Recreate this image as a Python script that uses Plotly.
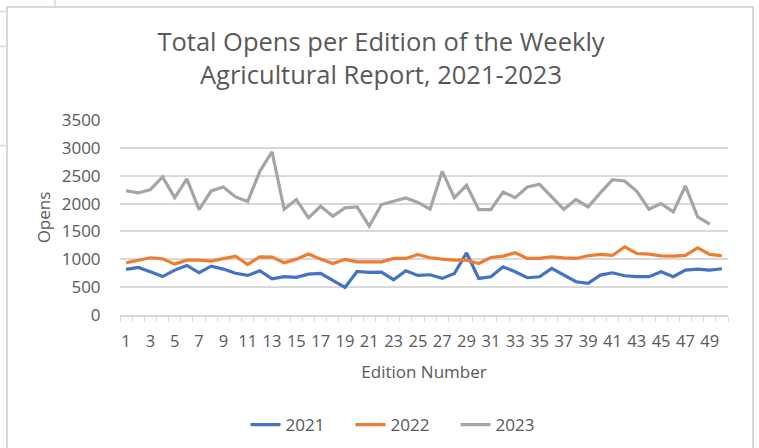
import plotly.graph_objects as go

editions = list(range(1, 51))
opens_2021 = [818, 854, 776, 690, 806, 890, 758, 878, 824, 750, 710, 794, 650, 687, 675, 734, 746, 627, 496, 782,
              764, 770, 633, 794, 710, 722, 657, 746, 1116, 657, 687, 866, 776, 669, 687, 836, 720, 597, 567, 716,
              758, 704, 687, 687, 776, 687, 806, 824, 806, 830]
opens_2022 = [937, 985, 1027, 1009, 913, 985, 985, 967, 1015, 1057, 907, 1045, 1040, 937, 1003, 1093, 1003, 925, 997, 955,
              955, 955, 1015, 1015, 1085, 1027, 1003, 985, 985, 925, 1033, 1057, 1116, 1015, 1015, 1045, 1027, 1015, 1063, 1087,
              1069, 1224, 1104, 1093, 1063, 1057, 1069, 1206, 1087, 1063]
opens_2023 = [2230, 2191, 2250, 2478, 2107, 2442, 1892, 2227, 2298, 2119, 2036, 2579, 2930, 1898, 2072, 1743, 1952, 1773, 1922, 1940,
              1594, 1982, 2042, 2101, 2020, 1898, 2579, 2107, 2328, 1892, 1892, 2209, 2107, 2298, 2346, 2131, 1898, 2072, 1940, 2191,
              2430, 2406, 2221, 1898, 2000, 1851, 2316, 1761, 1630, None]
series_names = ["2021", "2022", "2023"]
series_colors = ["#4472C4", "#ED7D31", "#A5A5A5"]
x_tick_labels = [str(v) for v in editions if v % 2 == 1]
y_tick_values = [0, 500, 1000, 1500, 2000, 2500, 3000, 3500]

W, H = 759, 448
FONT = "Open Sans"
TXT = "#595959"
GRID = "#D9D9D9"

fig = go.Figure()
for name, vals, col in zip(series_names, [opens_2021, opens_2022, opens_2023], series_colors):
    fig.add_trace(go.Scatter(x=editions, y=vals, name=name, mode="lines",
                             line=dict(color=col, width=3.2), connectgaps=False))

def px(x):
    return x / W

def py(y):
    return 1 - y / H

shapes = []
# chart area border
shapes.append(dict(type="rect", xref="paper", yref="paper", x0=px(7), x1=px(753), y0=py(460), y1=py(7),
                   line=dict(color=GRID, width=2), fillcolor="rgba(0,0,0,0)", layer="below"))
# spreadsheet cell lines outside the chart
shapes.append(dict(type="line", xref="paper", yref="paper", x0=px(55), x1=px(55), y0=py(0), y1=py(6),
                   line=dict(color=GRID, width=1.5)))
for yy in [11.5, 46.5, 145.5]:
    shapes.append(dict(type="line", xref="paper", yref="paper", x0=px(0), x1=px(6), y0=py(yy), y1=py(yy),
                       line=dict(color=GRID, width=1.5)))

fig.update_layout(
    width=W, height=H,
    margin=dict(l=0, r=0, t=0, b=0, autoexpand=False),
    paper_bgcolor="white", plot_bgcolor="white",
    font=dict(family=FONT, color=TXT, size=16),
    title=dict(text="Total Opens per Edition of the Weekly<br>Agricultural Report, 2021-2023",
               x=px(381), xanchor="center", y=py(51), yanchor="middle",
               font=dict(family=FONT, size=25.5, color=TXT)),
    xaxis=dict(domain=[px(120), px(728)], range=[0.5, 50.5], automargin=False,
               tickmode="array", tickvals=[v for v in editions if v % 2 == 1], ticktext=x_tick_labels,
               ticks="outside", ticklen=10, tickcolor="rgba(0,0,0,0)",
               showgrid=False, zeroline=False,
               showline=True, linecolor=GRID, linewidth=1.5,
               tickfont=dict(family=FONT, size=16.5, color=TXT),
               minor=dict(tickmode="linear", tick0=0.5, dtick=1, ticks="outside", ticklen=5,
                          tickcolor=GRID, tickwidth=1, showgrid=False),
               title=dict(text="Edition Number", font=dict(family=FONT, size=17, color=TXT), standoff=16)),
    yaxis=dict(domain=[py(315), py(120)], range=[0, 3500], automargin=False,
               tickmode="array", tickvals=y_tick_values, ticktext=[str(v) for v in y_tick_values],
               ticks="outside", ticklen=15, tickcolor="rgba(0,0,0,0)",
               showgrid=True, gridcolor=GRID, gridwidth=1.5, zeroline=False, showline=False,
               tickfont=dict(family=FONT, size=17, color=TXT),
               title=dict(text="Opens", font=dict(family=FONT, size=17, color=TXT), standoff=6)),
    legend=dict(orientation="h", x=px(403), xanchor="center", y=py(425), yanchor="middle",
                font=dict(family=FONT, size=17, color=TXT),
                entrywidth=60, entrywidthmode="pixels", bgcolor="rgba(0,0,0,0)"),
    shapes=shapes,
)

fig.write_html("out.html", config={"displayModeBar": False},
               post_script="document.body.style.margin='0px';document.body.style.padding='0px';")
